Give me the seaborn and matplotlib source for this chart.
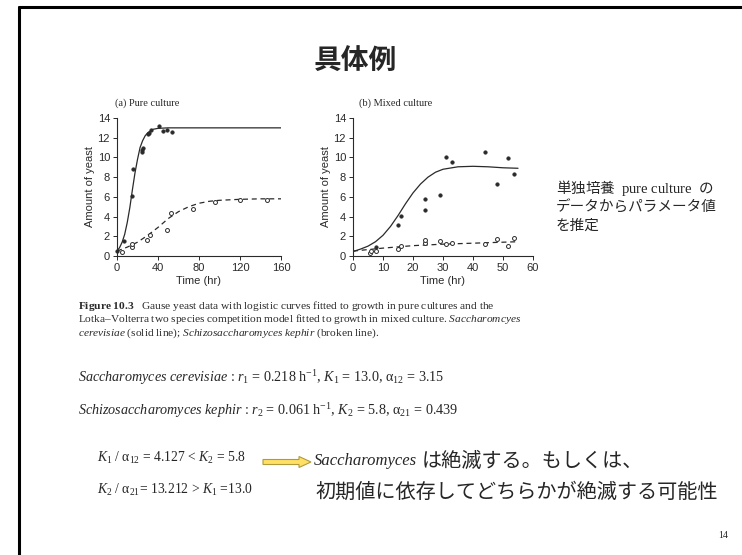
import matplotlib
matplotlib.use("Agg")
import matplotlib.pyplot as plt
import seaborn as sns
import pandas as pd
from matplotlib.lines import Line2D
from matplotlib.patches import FancyArrow
from matplotlib.text import Annotation

# (a) pure culture -- observed points
pure_sc_t = [0, 7, 15, 16, 24, 24, 25, 30, 31, 33, 41, 45, 49, 54]
pure_sc_n = [0.5, 1.5, 6.1, 8.8, 10.6, 10.8, 11.0, 12.4, 12.5, 12.8, 13.2, 12.7, 12.8, 12.6]
pure_sk_t = [5, 15, 15, 29, 32, 49, 53, 74, 96, 120, 146]
pure_sk_n = [0.4, 0.9, 1.2, 1.6, 2.1, 2.6, 4.4, 4.8, 5.5, 5.7, 5.7]
# (a) fitted curves
pure_sc_fit_t = [0, 2.5, 5, 7.5, 10, 12.5, 15, 17.5, 20, 22.5, 25, 27.5, 30, 35, 40, 50, 160]
pure_sc_fit_n = [0.5, 0.85, 1.4, 2.2, 3.4, 4.9, 6.7, 8.4, 9.8, 11.0, 11.7, 12.2, 12.5, 12.85, 12.95, 13.0, 13.0]
pure_sk_fit_t = [0, 10, 20, 30, 40, 50, 60, 70, 80, 90, 100, 120, 140, 160]
pure_sk_fit_n = [0.5, 0.9, 1.4, 2.1, 2.9, 3.8, 4.5, 5.0, 5.35, 5.55, 5.65, 5.75, 5.8, 5.8]

# (b) mixed culture -- observed points
mix_sc_t = [7.5, 15, 16, 24, 24, 29, 31, 33, 44, 48, 51.5, 53.5]
mix_sc_n = [0.95, 3.1, 4.1, 5.8, 4.7, 6.2, 10.0, 9.5, 10.6, 7.3, 9.9, 8.3]
mix_sk_t = [5.5, 6, 7.5, 15, 16, 24, 24, 29, 31, 33, 44, 48, 51.5, 53.5]
mix_sk_n = [0.3, 0.5, 0.55, 0.75, 1.0, 1.3, 1.6, 1.5, 1.2, 1.3, 1.2, 1.7, 1.0, 1.8]
# (b) fitted curves
mix_sc_fit_t = [0, 2.5, 5, 7.5, 10, 12.5, 15, 17.5, 20, 22.5, 25, 27.5, 30, 35, 40, 45, 50, 55]
mix_sc_fit_n = [0.45, 0.7, 1.0, 1.45, 2.1, 3.0, 4.1, 5.3, 6.4, 7.3, 8.0, 8.5, 8.8, 9.05, 9.1, 9.05, 8.95, 8.9]
mix_sk_fit_t = [0, 10, 20, 30, 40, 55]
mix_sk_fit_n = [0.5, 0.8, 1.05, 1.2, 1.3, 1.45]

W, H = 742, 555
INK = "#2a2a2a"

sns.set_style("ticks")
plt.rcParams["font.family"] = ["Liberation Sans", "Noto Sans CJK JP"]
plt.rcParams["mathtext.fontset"] = "custom"
plt.rcParams["mathtext.rm"] = "Liberation Serif"
plt.rcParams["mathtext.it"] = "Liberation Serif:italic"
plt.rcParams["mathtext.bf"] = "Liberation Serif:bold"

fig = plt.figure(figsize=(W / 100, H / 100), dpi=100)


def fx(px):
    return px / W


def fy(py):
    return 1 - py / H


def panel(rect, obs1, obs2, fit1, fit2, xlim, xticks):
    ax = fig.add_axes(rect)
    sns.lineplot(x=fit1[0], y=fit1[1], ax=ax, color=INK, lw=0.9, estimator=None, sort=False)
    sns.lineplot(x=fit2[0], y=fit2[1], ax=ax, color=INK, lw=0.9, estimator=None, sort=False,
                 dashes=False, linestyle=(0, (4, 3)))
    sns.scatterplot(x=obs1[0], y=obs1[1], ax=ax, color=INK, s=7, edgecolor=INK, linewidth=0.3,
                    clip_on=False, zorder=3)
    sns.scatterplot(x=obs2[0], y=obs2[1], ax=ax, facecolor="white", edgecolor=INK, s=8,
                    linewidth=0.7, clip_on=False, zorder=3)
    ax.set_xlim(*xlim)
    ax.set_ylim(0, 14)
    ax.set_xticks(xticks)
    ax.set_yticks(range(0, 15, 2))
    ax.tick_params(labelsize=8, length=3, width=0.7, colors=INK, pad=2)
    for s in ["left", "bottom"]:
        ax.spines[s].set_linewidth(0.8)
        ax.spines[s].set_color(INK)
    sns.despine(ax=ax)
    ax.set_xlabel("Time (hr)", fontsize=8, color=INK, labelpad=2)
    ax.set_ylabel("Amount of yeast", fontsize=8, color=INK, labelpad=2)
    return ax


panel([fx(117), 1 - 256 / H, fx(164), 138 / H],
      (pure_sc_t, pure_sc_n), (pure_sk_t, pure_sk_n),
      (pure_sc_fit_t, pure_sc_fit_n), (pure_sk_fit_t, pure_sk_fit_n),
      (0, 160), [0, 40, 80, 120, 160])
panel([fx(353), 1 - 256 / H, fx(180), 138 / H],
      (mix_sc_t, mix_sc_n), (mix_sk_t, mix_sk_n),
      (mix_sc_fit_t, mix_sc_fit_n), (mix_sk_fit_t, mix_sk_fit_n),
      (0, 60), [0, 10, 20, 30, 40, 50, 60])

serif = "Liberation Serif"
jp = ["Noto Sans CJK JP", "Liberation Serif"]

# slide frame
fig.add_artist(Line2D([fx(19), fx(19)], [fy(7), 0], color="black", lw=2.2))
fig.add_artist(Line2D([fx(19), 1], [fy(7), fy(7)], color="black", lw=2.2))

fig.text(fx(355), fy(62), "具体例", family=jp, fontsize=20, weight="bold", ha="center", va="center")
fig.text(fx(147), fy(103), "(a) Pure culture", family=serif, fontsize=7.5, ha="center", va="center", color=INK)
fig.text(fx(396), fy(103), "(b) Mixed culture", family=serif, fontsize=7.5, ha="center", va="center", color=INK)

for i, line in enumerate(["単独培養 $\\mathrm{\\ pure\\ culture\\ }$ の", "データからパラメータ値", "を推定"]):
    fig.text(fx(556), fy(188 + 19 * i), line, family=jp, fontsize=10.5, ha="left", va="center")

caption = [
    "$\\mathbf{Figure\\ 10.3}$   Gause yeast data with logistic curves fitted to growth in pure cultures and the",
    "Lotka\u2013Volterra two species competition model fitted to growth in mixed culture. $\\mathit{Saccharomcyes}$",
    "$\\mathit{cerevisiae}$ (solid line); $\\mathit{Schizosaccharomyces\\ kephir}$ (broken line).",
]
for i, line in enumerate(caption):
    fig.text(fx(78), fy(306 + 13.5 * i), line, family=serif, fontsize=8.2, ha="left", va="center", color=INK)

fig.text(fx(78), fy(378),
         "$\\mathit{Saccharomyces\\ cerevisiae}$ : $r_1$ = 0.218 h$^{-1}$, $K_1$ = 13.0, α$_{12}$ = 3.15",
         family=serif, fontsize=10.2, ha="left", va="center")
fig.text(fx(78), fy(411),
         "$\\mathit{Schizosaccharomyces\\ kephir}$ : $r_2$ = 0.061 h$^{-1}$, $K_2$ = 5.8, α$_{21}$ = 0.439",
         family=serif, fontsize=10.2, ha="left", va="center")
fig.text(fx(97), fy(458), "$K_1$ / α$_{12}$ = 4.127 < $K_2$ = 5.8",
         family=serif, fontsize=9.8, ha="left", va="center")
fig.text(fx(97), fy(490), "$K_2$ / α$_{21}$= 13.212 > $K_1$ =13.0",
         family=serif, fontsize=9.8, ha="left", va="center")

fig.patches.append(FancyArrow(fx(263), fy(462), fx(48), 0, width=5 / H, head_width=11 / H,
                              head_length=fx(12), length_includes_head=True,
                              facecolor="#ffe066", edgecolor="#b09a3a", lw=0.8,
                              transform=fig.transFigure, figure=fig))

sacc = fig.text(fx(314), fy(461), "Saccharomyces", family=serif, style="italic", fontsize=12,
                ha="left", va="center")
fig.add_artist(Annotation("は絶滅する。もしくは、", xy=(1, 0.5), xycoords=sacc,
                          xytext=(3, 0), textcoords="offset points",
                          family=jp, fontsize=14.5, ha="left", va="center"))
fig.text(fx(315), fy(492), "初期値に依存してどちらかが絶滅する可能性",
         family=jp, fontsize=14.5, ha="left", va="center")

fig.text(fx(723), fy(535), "14", family=serif, fontsize=7, ha="center", va="center")

fig.savefig("out.png", dpi=100)
